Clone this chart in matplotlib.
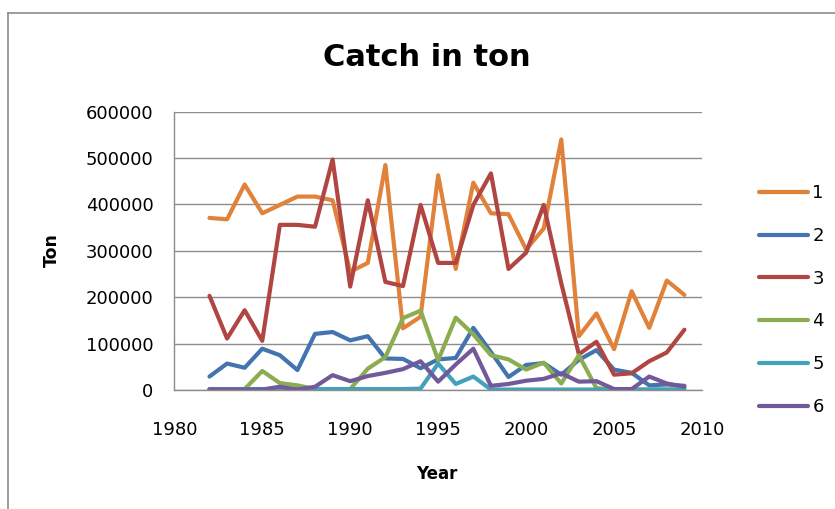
import matplotlib
matplotlib.use("Agg")
import matplotlib.pyplot as plt
from matplotlib.lines import Line2D

years = list(range(1982, 2010))

series_labels = ["1", "2", "3", "4", "5", "6"]
series_colors = ["#E1823A", "#4374B0", "#B04542", "#8CAD4F", "#44A1BB", "#72599A"]

catch_1 = [371000, 368000, 443000, 381000, 399000, 417000, 417000, 409000, 255000, 274000,
           485000, 133000, 158000, 463000, 261000, 447000, 381000, 379000, 303000, 348000,
           540000, 116000, 165000, 88000, 213000, 134000, 236000, 205000]
catch_2 = [29000, 57000, 48000, 89000, 75000, 43000, 121000, 125000, 107000, 116000,
           68000, 67000, 47000, 66000, 69000, 134000, 82000, 28000, 54000, 58000,
           33000, 65000, 86000, 44000, 37000, 10000, 12000, 9000]
catch_3 = [203000, 111000, 172000, 106000, 356000, 356000, 352000, 497000, 223000, 409000,
           233000, 224000, 399000, 274000, 274000, 399000, 467000, 261000, 296000, 399000,
           230000, 77000, 104000, 33000, 36000, 62000, 81000, 130000]
catch_4 = [2000, 2000, 2000, 41000, 15000, 10000, 2000, 2000, 2000, 46000,
           71000, 155000, 171000, 64000, 156000, 120000, 75000, 66000, 44000, 59000,
           14000, 75000, 4000, 1000, 1000, 1000, 1000, 1000]
catch_5 = [2000, 2000, 2000, 2000, 2000, 2000, 2000, 2000, 2000, 2000,
           2000, 2000, 3000, 57000, 13000, 29000, 1000, 1000, 1000, 1000,
           1000, 1000, 1000, 1000, 1000, 1000, 1000, 1000]
catch_6 = [1000, 1000, 1000, 1000, 7000, 1000, 7000, 32000, 19000, 30000,
           37000, 45000, 62000, 18000, 55000, 89000, 9000, 13000, 20000, 24000,
           36000, 18000, 19000, 2000, 2000, 29000, 14000, 7000]

all_series = [catch_1, catch_2, catch_3, catch_4, catch_5, catch_6]

x_ticks = [1980, 1985, 1990, 1995, 2000, 2005, 2010]
y_ticks = [0, 100000, 200000, 300000, 400000, 500000, 600000]

W, H = 835, 509
fig = plt.figure(figsize=(W / 100, H / 100), dpi=100)
ax = fig.add_axes([174.3 / W, 1 - 390 / H, (702 - 174.3) / W, (390 - 111.7) / H])

for vals, lab, col in zip(all_series, series_labels, series_colors):
    ax.plot(years, vals, color=col, linewidth=3.0, label=lab,
            solid_joinstyle='round', solid_capstyle='round')

ax.set_xlim(1980, 2010)
ax.set_ylim(0, 600000)
ax.set_xticks(x_ticks)
ax.set_yticks(y_ticks)
ax.set_xticklabels([str(t) for t in x_ticks])
ax.set_yticklabels([str(t) for t in y_ticks])
ax.tick_params(axis='both', length=0, labelsize=13, colors='black')
ax.tick_params(axis='y', pad=15)
ax.tick_params(axis='x', pad=22)

ax.grid(True, axis='y', color='#8C8C8C', linewidth=1.0)
ax.set_axisbelow(True)
for side in ['top', 'right']:
    ax.spines[side].set_visible(False)
for side in ['left', 'bottom']:
    ax.spines[side].set_color('#8C8C8C')
    ax.spines[side].set_linewidth(1.0)

fig.text(427 / W, 1 - 58 / H, "Catch in ton", ha='center', va='center',
         fontsize=22, fontweight='bold')
fig.text(52 / W, 1 - 250 / H, "Ton", ha='center', va='center', rotation=90,
         fontsize=12.5, fontweight='bold')
fig.text(437 / W, 1 - 474 / H, "Year", ha='center', va='center',
         fontsize=12, fontweight='bold')

leg = ax.legend(loc='center left', bbox_to_anchor=(759 / W, 1 - 300 / H),
                bbox_transform=fig.transFigure, frameon=False, fontsize=13,
                handlelength=2.7, handletextpad=0.25, labelspacing=1.37,
                borderpad=0, borderaxespad=0)

# outer chart frame (left and top edges visible)
fx, fy = 8 / W, 1 - 13 / H
fig.add_artist(Line2D([fx, fx], [-0.1, fy], color='#8C8C8C', linewidth=1.2,
                      transform=fig.transFigure))
fig.add_artist(Line2D([fx, 1.1], [fy, fy], color='#8C8C8C', linewidth=1.2,
                      transform=fig.transFigure))

fig.savefig("out.png", dpi=100)
